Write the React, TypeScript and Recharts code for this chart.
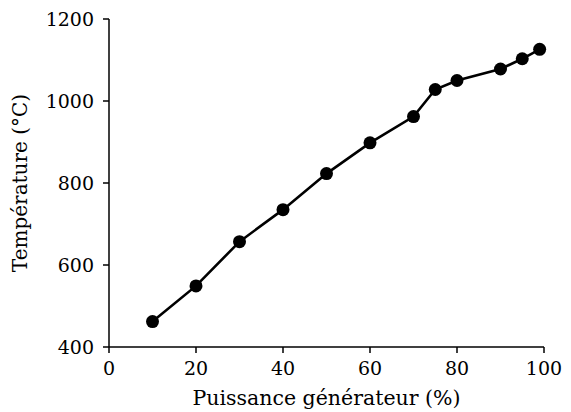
import { LineChart, Line, XAxis, YAxis, Label } from "recharts";

const puissance = [10, 20, 30, 40, 50, 60, 70, 75, 80, 90, 95, 99];
const temperature = [462, 549, 657, 735, 823, 898, 962, 1028, 1050, 1078, 1103, 1126];
const xTicks = [0, 20, 40, 60, 80, 100];
const yTicks = [400, 600, 800, 1000, 1200];

const FONT = "'DejaVu Serif', serif";
const INK = "#000000";

const data = puissance.map((p, i) => ({ p, t: temperature[i] }));

function YTitle({ viewBox }: any) {
  const cx = viewBox.x + 27;
  const cy = viewBox.y + viewBox.height / 2;
  return (
    <text
      x={cx}
      y={cy}
      transform={`rotate(-90 ${cx} ${cy})`}
      textAnchor="middle"
      fontFamily={FONT}
      fontSize={20}
      fill={INK}
    >
      Température (°C)
    </text>
  );
}

export default function App() {
  const tick = { fontFamily: FONT, fontSize: 19, fill: INK };
  const axis = { stroke: INK, strokeWidth: 1.5 };
  return (
    <div style={{ position: "absolute", left: 0, top: 0, background: "#fff" }}>
      <LineChart
        width={571}
        height={412}
        data={data}
        margin={{ top: 19, right: 27, left: 0, bottom: 0 }}
      >
        <XAxis
          dataKey="p"
          type="number"
          domain={[0, 100]}
          ticks={xTicks}
          tick={tick}
          tickSize={6}
          tickMargin={9}
          height={65}
          tickLine={axis}
          axisLine={axis}
        >
          <Label
            value="Puissance générateur (%)"
            position="insideBottom"
            offset={7}
            style={{ fontFamily: FONT, fontSize: 20.5, fill: INK }}
          />
        </XAxis>
        <XAxis
          xAxisId="top"
          orientation="top"
          type="number"
          domain={[0, 100]}
          tick={false}
          tickLine={false}
          height={0}
          axisLine={axis}
        />
        <YAxis
          type="number"
          domain={[400, 1200]}
          ticks={yTicks}
          tick={tick}
          tickSize={6}
          tickMargin={9}
          width={109}
          tickLine={axis}
          axisLine={axis}
        >
          <Label content={<YTitle />} />
        </YAxis>
        <YAxis
          yAxisId="right"
          orientation="right"
          type="number"
          domain={[400, 1200]}
          tick={false}
          tickLine={false}
          width={0}
          axisLine={axis}
        />
        <Line
          dataKey="t"
          type="linear"
          stroke={INK}
          strokeWidth={2.6}
          dot={{ r: 6.5, fill: INK, stroke: INK, strokeWidth: 0 }}
          activeDot={false}
          isAnimationActive={false}
        />
      </LineChart>
    </div>
  );
}
